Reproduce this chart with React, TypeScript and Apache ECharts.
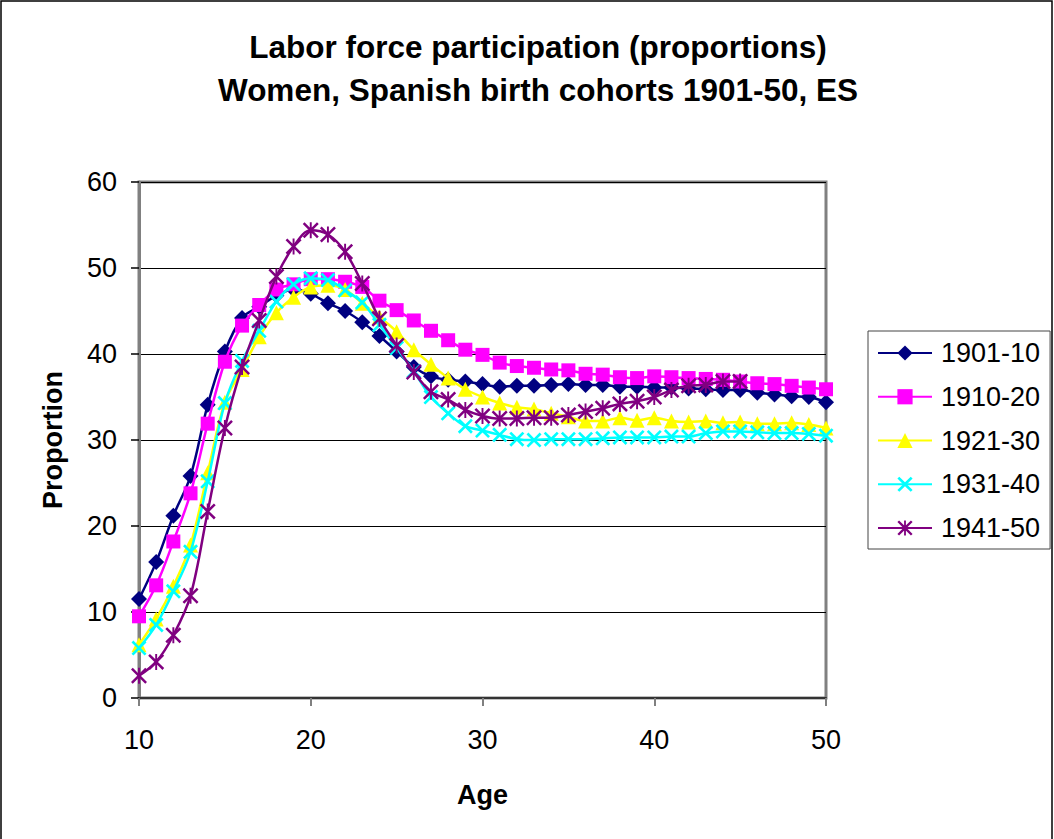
import React, { useEffect, useRef } from "react";
import * as echarts from "echarts";

const TITLE_LINES = [
  "Labor force participation (proportions)",
  "Women, Spanish birth cohorts 1901-50, ES",
];
const X_NAME = "Age";
const Y_NAME = "Proportion";

const ages = [
  10, 11, 12, 13, 14, 15, 16, 17, 18, 19, 20, 21, 22, 23, 24, 25, 26, 27, 28, 29,
  30, 31, 32, 33, 34, 35, 36, 37, 38, 39, 40, 41, 42, 43, 44, 45, 46, 47, 48, 49, 50,
];

const cohorts = ["1901-10", "1910-20", "1921-30", "1931-40", "1941-50"];

const c1901 = [
  11.5, 15.8, 21.2, 25.8, 34.1, 40.3, 44.2, 45.5, 46.8, 47.5, 47.0, 45.9, 45.0, 43.7,
  42.1, 40.3, 38.5, 37.4, 37.0, 36.8, 36.5, 36.2, 36.3, 36.3, 36.4, 36.5, 36.4, 36.4,
  36.2, 36.2, 36.1, 36.1, 36.0, 35.9, 35.8, 35.8, 35.5, 35.3, 35.1, 35.0, 34.4,
];
const c1910 = [
  9.5, 13.1, 18.2, 23.8, 31.9, 39.1, 43.3, 45.7, 47.5, 48.1, 48.7, 48.7, 48.4, 47.8,
  46.2, 45.1, 43.9, 42.7, 41.6, 40.5, 39.9, 39.0, 38.6, 38.4, 38.2, 38.1, 37.7, 37.6,
  37.3, 37.2, 37.4, 37.3, 37.2, 37.1, 37.0, 36.8, 36.6, 36.5, 36.3, 36.1, 35.9,
];
const c1921 = [
  6.2, 9.2, 13.0, 17.8, 26.2, 34.4, 38.2, 42.0, 44.8, 46.6, 47.8, 48.0, 47.5, 45.9,
  44.3, 42.6, 40.5, 38.8, 37.2, 35.9, 35.0, 34.3, 33.8, 33.6, 33.1, 32.7, 32.2, 32.2,
  32.6, 32.3, 32.6, 32.2, 32.1, 32.2, 32.0, 32.1, 31.9, 31.9, 32.0, 31.8, 31.4,
];
const c1931 = [
  5.8, 8.5, 12.4, 17.0, 25.2, 34.3, 39.2, 42.7, 46.1, 48.1, 48.8, 48.6, 47.4, 46.0,
  43.4, 40.7, 38.0, 35.0, 33.1, 31.6, 31.1, 30.6, 30.1, 30.0, 30.1, 30.1, 30.1, 30.2,
  30.3, 30.3, 30.3, 30.4, 30.4, 30.8, 31.0, 31.0, 30.9, 30.8, 30.8, 30.7, 30.5,
];
const c1941 = [
  2.6, 4.2, 7.3, 11.9, 21.7, 31.4, 38.5, 43.9, 49.0, 52.5, 54.4, 53.9, 51.9, 48.2,
  44.1, 41.0, 37.9, 35.6, 34.7, 33.5, 32.8, 32.5, 32.5, 32.6, 32.6, 32.9, 33.3, 33.7,
  34.2, 34.5, 35.0, 35.8, 36.3, 36.4, 36.8, 36.8, null, null, null, null, null,
];

const seriesValues = [c1901, c1910, c1921, c1931, c1941];
const colors = ["#000080", "#FF00FF", "#FFFF00", "#00FFFF", "#800080"];

const yTicks = [0, 10, 20, 30, 40, 50, 60];
const xTicks = [10, 20, 30, 40, 50];

const X_PATH =
  "path://M0,2.5 L2.5,0 L10,7.5 L17.5,0 L20,2.5 L12.5,10 L20,17.5 L17.5,20 L10,12.5 L2.5,20 L0,17.5 L7.5,10 Z";
const STAR_PATH =
  "path://M0,2.2 L2.2,0 L10,7.8 L17.8,0 L20,2.2 L12.2,10 L20,17.8 L17.8,20 L10,12.2 L2.2,20 L0,17.8 L7.8,10 Z M8.8,0 L11.2,0 L11.2,20 L8.8,20 Z";

const symbols = ["diamond", "rect", "triangle", X_PATH, STAR_PATH];
const symbolSizes = [16, 14, 15, 15, 16];

const FONT = "'Liberation Sans', Arial, sans-serif";

export default function App() {
  const ref = useRef<HTMLDivElement | null>(null);

  useEffect(() => {
    if (!ref.current) return;
    const chart = echarts.init(ref.current, undefined, { renderer: "svg" });

    const series = cohorts.map((name, i) => ({
      name,
      type: "line",
      data: ages.map((a, j) => [a, seriesValues[i][j]]),
      smooth: 0.35,
      connectNulls: false,
      symbol: symbols[i],
      symbolSize: symbolSizes[i],
      showAllSymbol: true,
      lineStyle: { color: colors[i], width: 2.5 },
      itemStyle: { color: colors[i], borderWidth: 0 },
      z: 2 + i,
    }));

    chart.setOption({
      animation: false,
      backgroundColor: "#ffffff",
      title: {
        text: TITLE_LINES.join("\n"),
        left: 538,
        top: 25,
        textAlign: "center",
        padding: 0,
        textStyle: {
          fontFamily: FONT,
          fontWeight: "bold",
          fontSize: 31.5,
          lineHeight: 43,
          color: "#000",
        },
      },
      grid: {
        left: 139,
        top: 182,
        width: 687,
        height: 516,
        show: true,
        borderColor: "#808080",
        borderWidth: 3,
        backgroundColor: "transparent",
      },
      legend: {
        orient: "vertical",
        left: 868,
        top: 331,
        padding: [7, 10, 6, 9],
        itemWidth: 54,
        itemHeight: 19,
        itemGap: 13.75,
        borderColor: "#444",
        borderWidth: 1,
        data: cohorts,
        textStyle: {
          fontFamily: FONT,
          fontSize: 27,
          lineHeight: 30,
          color: "#000",
          padding: [0, 0, 0, 4],
        },
      },
      xAxis: {
        type: "value",
        min: 10,
        max: 50,
        interval: 10,
        name: X_NAME,
        nameLocation: "middle",
        nameGap: 83,
        nameTextStyle: {
          fontFamily: FONT,
          fontWeight: "bold",
          fontSize: 27,
          color: "#000",
        },
        axisLine: { show: true, lineStyle: { color: "#333", width: 2 } },
        axisTick: { show: true, inside: false, length: 8, lineStyle: { color: "#808080", width: 2 } },
        axisLabel: {
          margin: 28,
          fontFamily: FONT,
          fontSize: 27,
          color: "#000",
          formatter: (v: number) => (xTicks.includes(v) ? String(v) : ""),
        },
        splitLine: { show: false },
      },
      yAxis: {
        type: "value",
        min: 0,
        max: 60,
        interval: 10,
        name: Y_NAME,
        nameLocation: "middle",
        nameGap: 73,
        nameTextStyle: {
          fontFamily: FONT,
          fontWeight: "bold",
          fontSize: 27,
          color: "#000",
        },
        axisLine: { show: true, lineStyle: { color: "#808080", width: 3 } },
        axisTick: { show: true, inside: false, length: 8, lineStyle: { color: "#000", width: 1.5 } },
        axisLabel: {
          margin: 22,
          fontFamily: FONT,
          fontSize: 27,
          color: "#000",
          formatter: (v: number) => (yTicks.includes(v) ? String(v) : ""),
        },
        splitLine: { show: true, lineStyle: { color: "#000", width: 1.2 } },
      },
      graphic: [
        {
          type: "rect",
          shape: { x: 1, y: 1, width: 1051, height: 860 },
          style: { fill: "none", stroke: "#000", lineWidth: 1.5 },
          silent: true,
          z: 100,
        },
      ],
      series,
    });

    return () => chart.dispose();
  }, []);

  return (
    <div
      ref={ref}
      style={{ position: "fixed", left: 0, top: 0, width: 1054, height: 839, background: "#fff" }}
    />
  );
}
